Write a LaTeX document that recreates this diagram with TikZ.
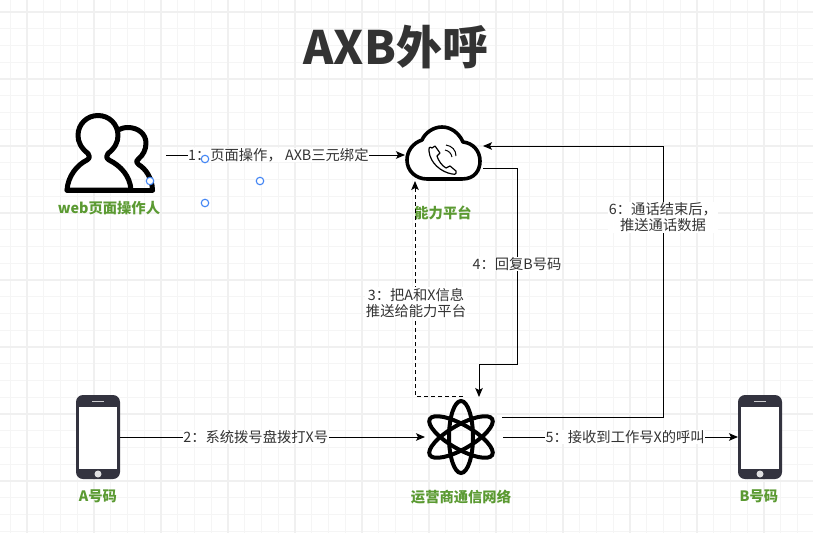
\documentclass[tikz,border=0pt]{standalone}
\usepackage{fontspec}
\setmainfont{Noto Sans CJK SC}
\usetikzlibrary{arrows.meta,calc}
\definecolor{lbltxt}{HTML}{333333}
\definecolor{grn}{HTML}{5B9A32}
\definecolor{phonec}{HTML}{33333F}
\definecolor{hnd}{HTML}{4285F4}
\tikzset{
  px/.style={x=1pt,y=-1pt},
  anchorbox/.style={inner sep=0pt,outer sep=0pt,minimum width=#1},
  conn/.style={draw=black,line width=0.9pt,-{Stealth[length=9pt,width=7.5pt,inset=2pt]}},
  lbl/.style={fill=white,text=lbltxt,font=\fontsize{14.3}{16.5}\selectfont,inner sep=0.5pt,align=center},
  captext/.style={text=grn,font=\fontsize{14.3}{16}\selectfont\bfseries,inner sep=0pt},
  iconline/.style={draw=black,line width=5pt,line join=round,line cap=round},
  handlemark/.style={draw=hnd,fill=white,line width=1.1pt,circle,inner sep=0pt,minimum size=7.5pt},
  phonebody/.style={fill=phonec,rounded corners=7pt},
}
\newcommand{\phoneicon}[1]{%
  \begin{scope}[shift={(#1)}]
    \fill[phonebody] (-22,-42) rectangle (22,42);
    \fill[white] (-19,-30) rectangle (19,32);
    \fill[white!75!phonec] (-6,-36.5) rectangle (6,-35.5);
    \fill[white!85!phonec] (0,37) circle (3.5);
  \end{scope}}
\begin{document}
\begin{tikzpicture}[px]
\useasboundingbox (0,0) rectangle (813,533);
\fill[white] (0,0) rectangle (813,533);
% grid
\foreach \k in {0,...,48} {
  \pgfmathsetmacro{\gx}{10.25+16.75*\k}
  \draw[draw=black!4,line width=0.9pt] (\gx,0) -- (\gx,533);
}
\foreach \k in {0,...,32} {
  \pgfmathsetmacro{\gy}{12+16.75*\k}
  \draw[draw=black!4,line width=0.9pt] (0,\gy) -- (813,\gy);
}
\foreach \k in {0,...,11} {
  \pgfmathsetmacro{\gx}{27+67*\k}
  \draw[draw=black!6,line width=1.2pt] (\gx,0) -- (\gx,533);
}
\foreach \k in {0,...,7} {
  \pgfmathsetmacro{\gy}{12+67*\k}
  \draw[draw=black!6,line width=1.2pt] (0,\gy) -- (813,\gy);
}
% title
\node[text=lbltxt,font=\fontsize{46}{50}\selectfont\bfseries,inner sep=0pt] (title) at (396,47) {AXB外呼};

% anchor nodes for the icons
\node[anchorbox=102pt,minimum height=80pt] (users) at (115,155) {};
\node[anchorbox=78pt,minimum height=52pt] (cloud) at (444,155) {};
\node[anchorbox=78pt,minimum height=80pt] (atom) at (464,437) {};
\node[anchorbox=44pt,minimum height=84pt] (phoneA) at (98,437) {};
\node[anchorbox=44pt,minimum height=84pt] (phoneB) at (760,437) {};

% users icon
\draw[iconline] (118,130) .. controls (121,128.5) and (124,127.5) .. (128,127.5)
  .. controls (138,127.5) and (146,134) .. (146,143)
  .. controls (146,150) and (143,155) .. (138.5,159)
  .. controls (136,161) and (136,163) .. (138.5,164.5)
  .. controls (146,169) and (152,178) .. (152.5,190);
\draw[iconline,fill=white] (67,190) .. controls (68,176) and (77,165) .. (87,160)
  .. controls (90,158) and (90,155.5) .. (88,153.5)
  .. controls (81,148) and (78,142) .. (78,135.5)
  .. controls (78,124) and (87,115.5) .. (98,115.5)
  .. controls (109,115.5) and (118,124) .. (118,135.5)
  .. controls (118,142) and (115,148) .. (108,153.5)
  .. controls (106,155.5) and (106,158) .. (109,160)
  .. controls (121,166) and (130,176) .. (131,190) -- cycle;
\draw[iconline] (67,190) -- (152.5,190);

% cloud icon
\draw[draw=black,line width=3.6pt,line join=round,fill=white]
  (427,179) -- (462,179)
  .. controls (475,179) and (480,170) .. (480,161)
  .. controls (480,151) and (473,143) .. (463,142)
  .. controls (459,133) and (451,127) .. (442,127)
  .. controls (433,127) and (425,133) .. (422,140)
  .. controls (413,143) and (407,151) .. (407,160)
  .. controls (407,171) and (416,179) .. (427,179) -- cycle;
% handset in the cloud
\draw[draw=black,line width=1.2pt,line join=round]
  (432,148) .. controls (429,146) and (429,148) .. (429,151)
  .. controls (430,163) and (441,172) .. (452,174)
  .. controls (456,175) and (457,173) .. (456,171)
  -- (450,166) -- (446,168)
  .. controls (442,166) and (438,160) .. (437,156)
  -- (440,153) -- (435,146) -- cycle;
\draw[draw=black,line width=1pt] (445,150) .. controls (449,151) and (451,153) .. (452,157);
\draw[draw=black,line width=1pt] (446,145) .. controls (452,146) and (456,150) .. (456,156);

% atom icon
\foreach \r in {0,60,120}
  \draw[draw=black,line width=4pt,rotate around={\r:(461,437)}] (461,437) ellipse (12pt and 36pt);

% phones
\phoneicon{phoneA.center}
\phoneicon{phoneB.center}

% captions
\node[captext] (capUsers) at (109,208) {web页面操作人};
\node[captext] (capCloud) at (443,213) {能力平台};
\node[captext] (capAtom) at (461,497) {运营商通信网络};
\node[captext] (capA) at (98,496) {A号码};
\node[captext] (capB) at (759,496) {B号码};

% routing points
\coordinate (r3a) at (463,396);
\coordinate (r3b) at (415,396);
\coordinate (r4a) at (517,168);
\coordinate (r4b) at (517,364);
\coordinate (r4c) at (479,364);
\coordinate (r6a) at (502,417);
\coordinate (r6b) at (663,417);
\coordinate (r6c) at (663,146);

% connectors
\draw[conn] (users.east) -- node[lbl,pos=0.47] {1：页面操作， AXB三元绑定} (cloud.west);
\draw[conn,dashed,dash pattern=on 4pt off 3pt] (r3a) -- (r3b) -- node[lbl,pos=0.433,xshift=1pt] {3：把A和X信息\\推送给能力平台} (r3b |- cloud.south);
\draw[conn] (r4a -| cloud.east) -- (r4a) -- node[lbl,pos=0.49] {4：回复B号码} (r4b) -- (r4c) -- (r4c |- atom.north);
\draw[conn] (r6a) -- (r6b) -- node[lbl,pos=0.737] {6：通话结束后，\\推送通话数据} (r6c) -- (r6c -| cloud.east);
\draw[conn] (phoneA.east) -- node[lbl,pos=0.445] {2：系统拨号盘拨打X号} (atom.west);
\draw[conn] (atom.east) -- node[lbl,pos=0.52] {5：接收到工作号X的呼叫} (phoneB.west);

% selection handles
\node[handlemark] (h1) at (205,159) {};
\node[handlemark] (h2) at (260,181) {};
\node[handlemark] (h3) at (205,203) {};
\node[handlemark] (h4) at (150,181) {};
\end{tikzpicture}
\end{document}
